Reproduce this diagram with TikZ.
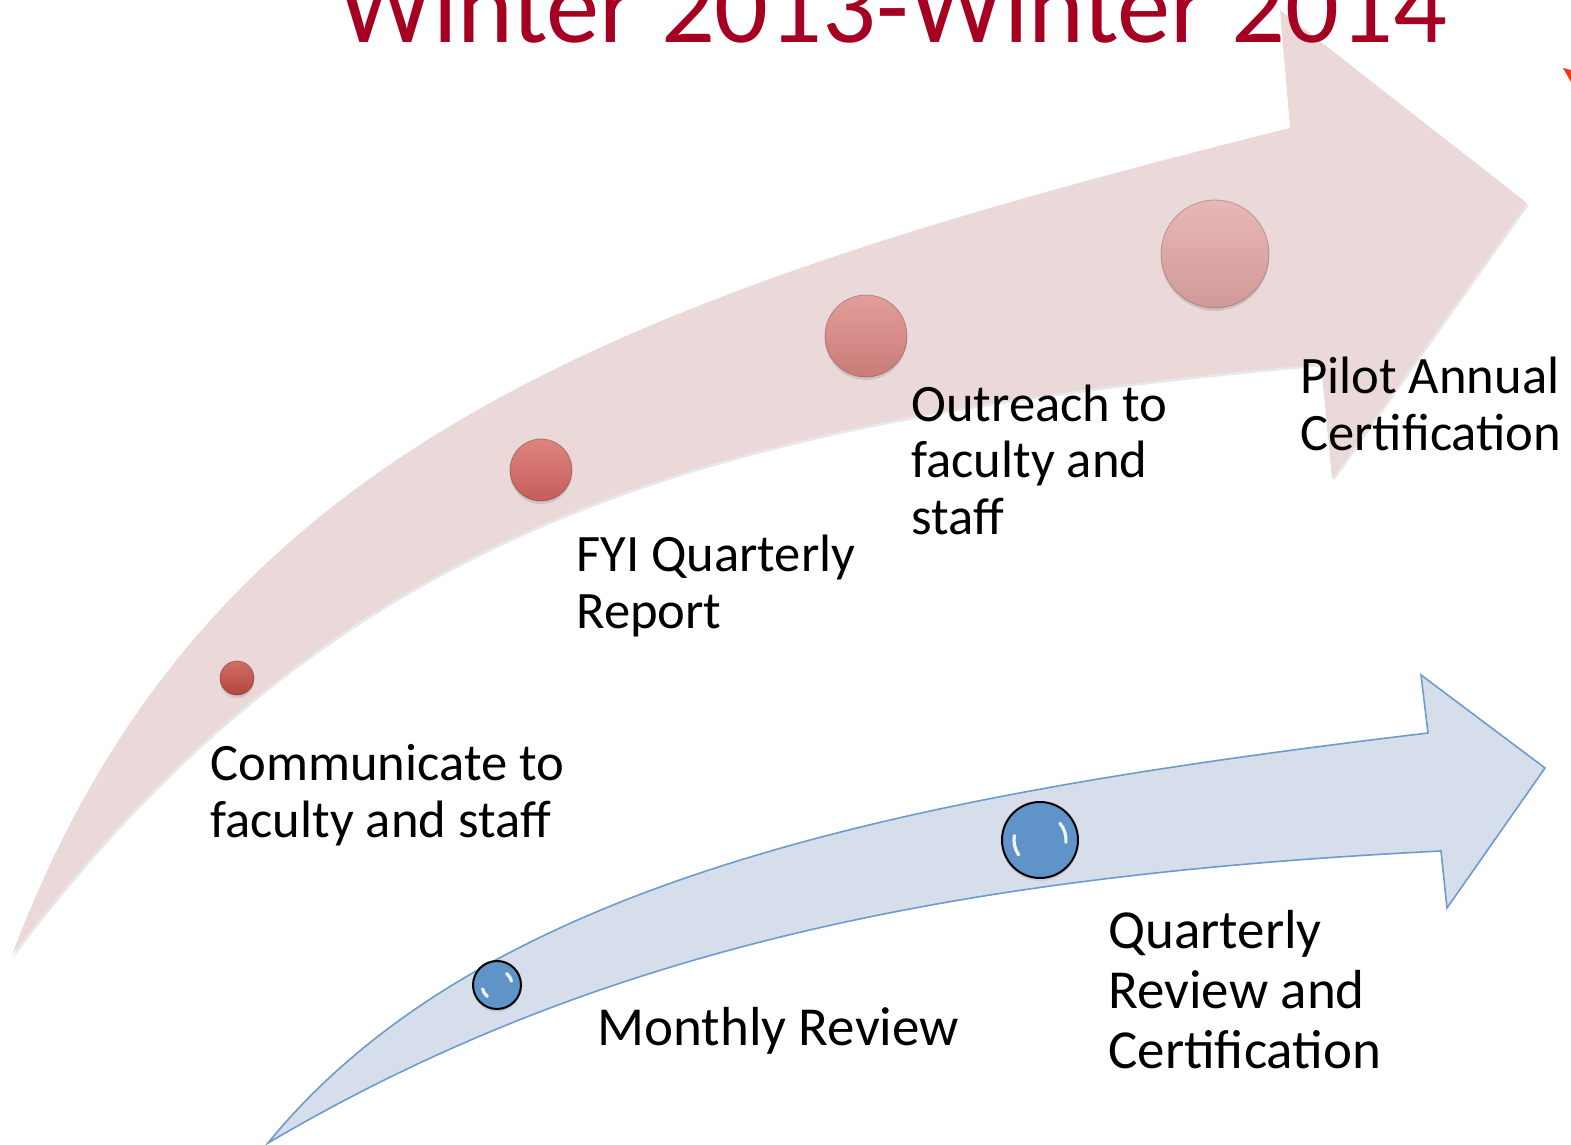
\documentclass[tikz,border=0pt]{standalone}
\usepackage{fontspec}
\setmainfont{Carlito}
\usetikzlibrary{shadows}
\definecolor{titlered}{RGB}{165,0,33}
\definecolor{pinkfill}{RGB}{235,217,218}
\definecolor{bluefill}{RGB}{214,222,235}
\definecolor{bluestroke}{RGB}{110,155,205}
\definecolor{bluedotc}{RGB}{96,148,201}
\definecolor{dotA}{RGB}{196,74,66}
\definecolor{dotB}{RGB}{213,102,96}
\definecolor{dotC}{RGB}{219,134,129}
\definecolor{dotD}{RGB}{226,166,164}
\definecolor{markred}{RGB}{235,60,25}
\tikzset{
  pinkball/.style={circle, inner sep=0pt, top color=#1!80!white, middle color=#1, bottom color=#1!92!black,
    draw=#1!55!black, draw opacity=0.45, line width=0.4pt,
    drop shadow={shadow xshift=0pt, shadow yshift=-1.5pt, opacity=0.25}},
  blueball/.style={circle, inner sep=0pt, fill=bluedotc, draw=black, line width=1pt,
    drop shadow={shadow xshift=0pt, shadow yshift=-1.5pt, opacity=0.2}},
  lblpink/.style={font=\fontsize{26.3}{28.2}\selectfont, align=left, inner sep=0pt, anchor=base west},
  lblblue/.style={font=\fontsize{27.5}{29.8}\selectfont, align=left, inner sep=0pt, anchor=base west},
  shine/.style={white, line width=1.6pt, line cap=round, opacity=0.9}
}
\begin{document}
\begin{tikzpicture}[x=0.5pt,y=-0.5pt]
\useasboundingbox (0,0) rectangle (1571,1145);
% pink arrow
\fill[pinkfill, drop shadow={shadow xshift=0.8pt, shadow yshift=-1.2pt, opacity=0.18}]
  (12,955) .. controls (200,455) and (600,300) .. (1290,128)
  -- (1280,10) -- (1527,203) -- (1332,479) -- (1321,364)
  .. controls (721,418) and (342,515) .. (12,955) -- cycle;
% blue arrow
\filldraw[fill=bluefill, draw=bluestroke, line width=0.8pt, line join=miter]
  (268,1143) .. controls (488,873) and (928,793) .. (1428,733)
  -- (1421,675) -- (1545,768) -- (1447,908) -- (1441,851)
  .. controls (941,876) and (591,953) .. (268,1143) -- cycle;
% title
\node[font=\fontsize{53.2}{60}\selectfont, text=titlered, anchor=base west, inner sep=0pt] (title) at (338,43) {Winter 2013-Winter 2014};
% pink balls
\node[pinkball=dotA, minimum size=17pt] (p1) at (237,678) {};
\node[pinkball=dotB, minimum size=31pt] (p2) at (541,470) {};
\node[pinkball=dotC, minimum size=41pt] (p3) at (866,336) {};
\node[pinkball=dotD, minimum size=54pt] (p4) at (1215,254) {};
% blue balls
\node[blueball, minimum size=24pt] (b1) at (497,985) {};
\node[blueball, minimum size=38pt] (b2) at (1040,840) {};
\draw[shine] (b1.center) ++(130:15) arc (130:165:15);
\draw[shine] (b1.center) ++(-50:15) arc (-50:-15:15);
\draw[shine] (b2.center) ++(145:26) arc (145:190:26);
\draw[shine] (b2.center) ++(-40:26) arc (-40:5:26);
% labels (anchored at the baseline of the last line)
\node[lblpink] (l1) at (210,837) {Communicate to\\faculty and staff};
\node[lblpink] (l2) at (576,628) {FYI Quarterly\\Report};
\node[lblpink] (l3) at (911,534) {Outreach to\\faculty and\\staff};
\node[lblpink] (l4) at (1300,450) {Pilot Annual\\Certification};
\node[lblblue] (l5) at (597,1045) {Monthly Review};
\node[lblblue] (l6) at (1108,1068) {Quarterly\\Review and\\Certification};
% small cut-off mark at right edge
\fill[markred] (1563,68) -- (1571,70) -- (1571,82) -- cycle;
\end{tikzpicture}
\end{document}
